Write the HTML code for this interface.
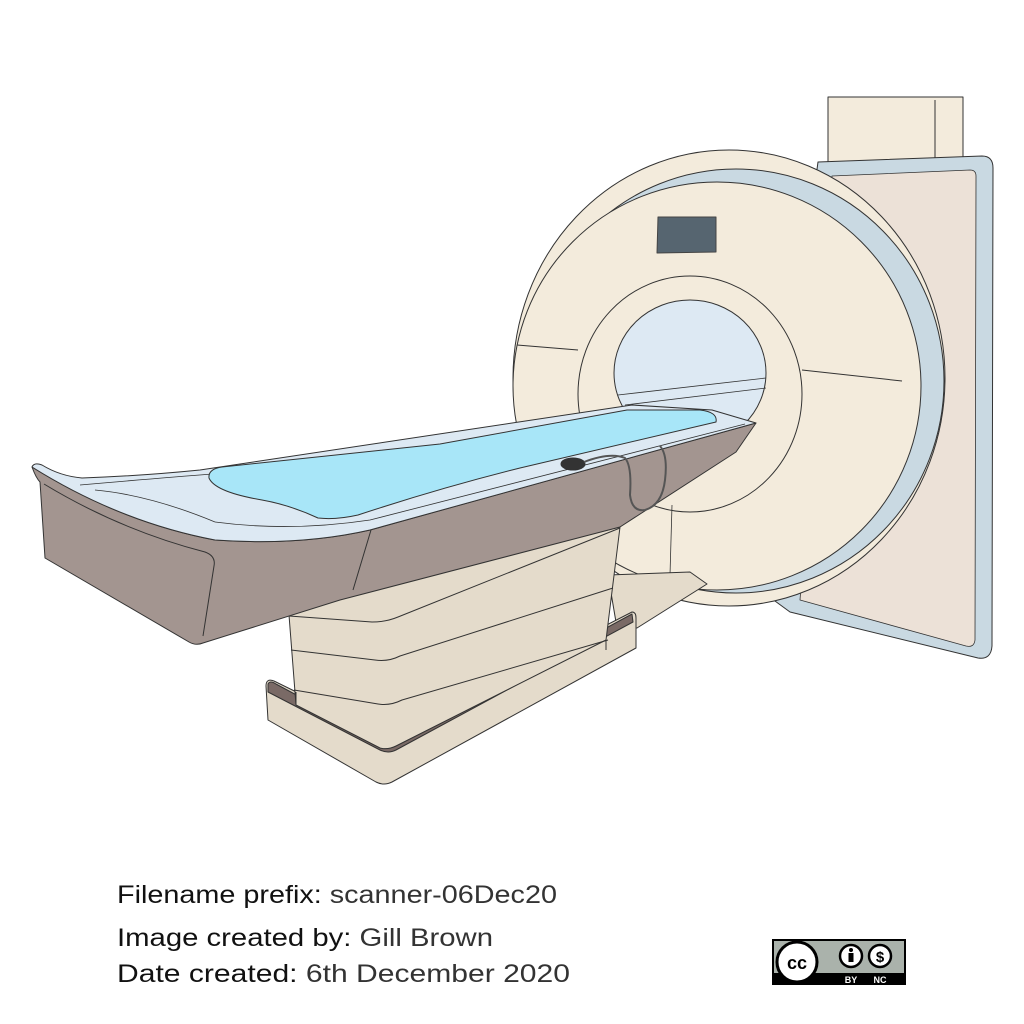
<!DOCTYPE html>
<html><head><meta charset="utf-8"><style>
html,body{margin:0;padding:0;background:#fff}
svg{display:block}
</style></head><body>
<svg width="1024" height="1024" viewBox="0 0 1024 1024" xmlns="http://www.w3.org/2000/svg">
<g stroke="#333" stroke-width="1" stroke-linejoin="round">
<rect x="828" y="97" width="135" height="80" fill="#f3ebdc"/>
<line x1="935" y1="100" x2="935" y2="170"/>
<path d="M818,162 L982,156 Q993,156 993,168 L992,646 Q991,660 978,658 L790,612 L760,590 Z" fill="#c9d9e2"/>
<path d="M832,176 L970,170 Q976,170 976,176 L975,640 Q974,648 966,646 L800,600 Z" fill="#ece1d7" stroke-width="0.8"/>
<ellipse cx="729" cy="378" rx="216" ry="228" fill="#f3ebdc"/>
<ellipse cx="736" cy="381" rx="208" ry="212" fill="#c9d9e2"/>
<ellipse cx="717" cy="386" rx="204" ry="204" fill="#f3ebdc"/>
<ellipse cx="690" cy="394" rx="112" ry="118" fill="#f3ebdc"/>
<ellipse cx="690" cy="373" rx="76" ry="73" fill="#dde9f3"/>
<line x1="517" y1="345" x2="578" y2="350"/>
<line x1="802" y1="370" x2="902" y2="381"/>
<polygon points="658,217 716,217 716,252 657,253" fill="#566570" stroke="#444"/>
<line x1="618" y1="395" x2="766" y2="378" stroke-width="0.8"/>
<line x1="625" y1="405" x2="766" y2="388" stroke-width="0.8"/>
<line x1="672" y1="505" x2="670" y2="575" stroke-width="0.8"/>
<polygon points="608,575 690,572 707,584 637,628 617,628" fill="#e4dbcb"/>
<path d="M266,686 Q266,678 274,681 L388,737 L632,612 Q636,612 636,618 L636,648 L392,782 Q384,786 376,782 L268,720 Z" fill="#e4dbcb"/>
<path d="M268,684 Q270,680 276,684 L384,742 Q390,745 396,742 L632,614 L633,622 L396,750 Q388,754 380,750 L268,692 Z" fill="#7a6a66"/>
<path d="M330,598 L289,615 L296,705 L380,748 Q388,750 396,746 L606,640 L620,527 Z" fill="#e4dbcb"/>
<path d="M291,650 L375,660 Q388,662 400,656 L613,588" fill="none"/>
<path d="M294,690 L378,704 Q390,706 402,700 L608,640" fill="none"/>
<path d="M289,616 L372,622 Q386,622 398,617 L620,528" fill="none"/>
<line x1="296" y1="692" x2="296" y2="705"/>
<line x1="606" y1="640" x2="606" y2="650"/>
<path d="M32,467 Q36,478 40,482 L45,558 L189,642 Q196,646 203,643 L340,600 L620,527 L736,452 L756,423 L370,530 Q300,546 215,540 Q120,522 32,467 Z" fill="#a39590"/>
<path d="M44,484 Q120,530 205,552 Q216,556 214,566 L203,636" fill="none"/>
<path d="M371,530 L353,590" fill="none"/>
<path d="M32,467 Q34,462 42,465 Q60,476 82,478 Q140,476 200,470 L632,405 L712,410 L756,423 L370,530 Q300,546 215,540 Q120,522 32,467 Z" fill="#dde9f3"/>
<path d="M80,485 Q160,478 212,474" fill="none" stroke-width="0.8"/>
<path d="M95,490 Q150,495 215,522" fill="none" stroke-width="0.8"/>
<path d="M215,522 Q290,532 370,520 L745,424" fill="none" stroke-width="0.8"/>
<path d="M209,478 Q208,469 222,467 L440,444 L627,410 L700,410 Q718,412 716,422 L520,468 Q440,488 358,515 Q336,520 318,518 Q290,505 262,500 Q215,492 209,478 Z" fill="#a8e6f8"/>
<ellipse cx="573" cy="464" rx="12" ry="6" fill="#333"/>
<path d="M584,462 Q610,452 625,458 Q632,466 630,495 Q632,512 645,510 Q662,505 665,480 Q668,455 660,446" fill="none" stroke="#555" stroke-width="2"/>
</g>
<g font-family="'Liberation Sans', sans-serif" font-size="25">
<text x="117" y="903" textLength="440" lengthAdjust="spacingAndGlyphs"><tspan fill="#111">Filename prefix:</tspan><tspan fill="#333"> scanner-06Dec20</tspan></text>
<text x="117" y="946" textLength="376" lengthAdjust="spacingAndGlyphs"><tspan fill="#111">Image created by:</tspan><tspan fill="#333"> Gill Brown</tspan></text>
<text x="117" y="982" textLength="453" lengthAdjust="spacingAndGlyphs"><tspan fill="#111">Date created:</tspan><tspan fill="#333"> 6th December 2020</tspan></text>
</g>
<g>
<rect x="772" y="939" width="134" height="46" fill="#000"/>
<rect x="774" y="941" width="130" height="32" fill="#aab2ab"/>
<circle cx="797" cy="962" r="20" fill="#fff" stroke="#000" stroke-width="3"/>
<text x="797" y="969" font-family="'Liberation Sans',sans-serif" font-weight="bold" font-size="18" text-anchor="middle" fill="#000">cc</text>
<circle cx="851" cy="956" r="11" fill="#fff" stroke="#000" stroke-width="2.5"/>
<circle cx="851" cy="950" r="2" fill="#000"/>
<rect x="848.5" y="953" width="5" height="9" fill="#000"/>
<circle cx="880" cy="956" r="11" fill="#fff" stroke="#000" stroke-width="2.5"/>
<text x="880" y="962" font-family="'Liberation Sans',sans-serif" font-weight="bold" font-size="15" text-anchor="middle" fill="#000">$</text>
<text x="851" y="983" font-family="'Liberation Sans',sans-serif" font-weight="bold" font-size="9" text-anchor="middle" fill="#fff">BY</text>
<text x="880" y="983" font-family="'Liberation Sans',sans-serif" font-weight="bold" font-size="9" text-anchor="middle" fill="#fff">NC</text>
</g>
</svg>
</body></html>
